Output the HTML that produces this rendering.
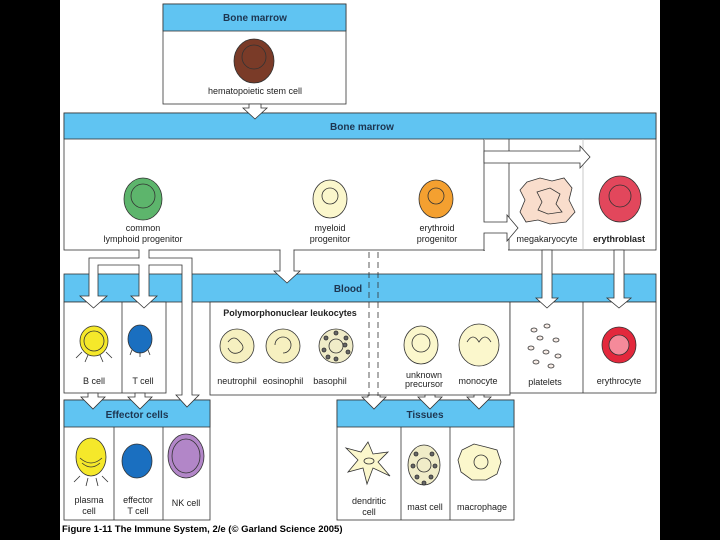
<!DOCTYPE html>
<html><head><meta charset="utf-8"><style>
html,body{margin:0;padding:0;background:#000;}
svg{display:block;}
text{font-family:"Liberation Sans",sans-serif;font-size:9px;fill:#222;text-anchor:middle;}
.h{font-weight:bold;font-size:10px;fill:#1d3550;}
.b{font-weight:bold;}
</style></head><body>
<svg width="720" height="540" viewBox="0 0 720 540" xmlns="http://www.w3.org/2000/svg">
<rect x="0" y="0" width="720" height="540" fill="#000"/>
<rect x="60" y="0" width="600" height="540" fill="#fff"/>

<g stroke="#333" stroke-width="0.8">
<!-- top box -->
<rect x="163" y="4" width="183" height="100" fill="#fff"/>
<rect x="163" y="4" width="183" height="27" fill="#60c4f2"/>
<!-- bone marrow -->
<rect x="64" y="113" width="592" height="137" fill="#fff"/>
<rect x="64" y="113" width="592" height="26" fill="#60c4f2"/>
<!-- blood -->
<rect x="64" y="274" width="592" height="28" fill="#60c4f2"/>
<rect x="64" y="302" width="102" height="91" fill="#fff"/>
<line x1="122" y1="302" x2="122" y2="393"/>
<rect x="210" y="302" width="300" height="93" fill="#fff"/>
<rect x="510" y="302" width="146" height="91" fill="#fff"/>
<line x1="583" y1="302" x2="583" y2="393"/>
<!-- effector -->
<rect x="64" y="400" width="146" height="120" fill="#fff"/>
<rect x="64" y="400" width="146" height="27" fill="#60c4f2"/>
<line x1="114" y1="427" x2="114" y2="520"/>
<line x1="163" y1="427" x2="163" y2="520"/>
<!-- tissues -->
<rect x="337" y="400" width="177" height="120" fill="#fff"/>
<rect x="337" y="400" width="177" height="27" fill="#60c4f2"/>
<line x1="401" y1="427" x2="401" y2="520"/>
<line x1="450" y1="427" x2="450" y2="520"/>
</g>

<!-- marrow right channel -->
<rect x="485" y="140" width="23" height="110" fill="#fff"/>
<g stroke="#333" stroke-width="0.8" fill="#fff">
<line x1="509" y1="139" x2="509" y2="250"/>
<line x1="583" y1="139" x2="583" y2="250" stroke="#bbb"/>
<polygon points="484,139 484,222 507,222 507,215 518,228 507,241 507,233 484,233 484,250 485,250 485,139" stroke="none"/>
<polyline points="484,139 484,222 507,222 507,215 518,228 507,241 507,233 484,233 484,251" fill="none"/>
<polygon points="484,151 580,151 580,146 590,157 580,168 580,163 484,163"/>
</g>
<line x1="485" y1="250" x2="508" y2="250" stroke="#fff" stroke-width="2"/>

<!-- headers -->
<text class="h" x="255" y="21">Bone marrow</text>
<text class="h" x="362" y="130">Bone marrow</text>
<text class="h" x="348" y="292">Blood</text>
<text class="h" x="137" y="418">Effector cells</text>
<text class="h" x="425" y="418">Tissues</text>

<!-- arrows -->
<g stroke="#333" stroke-width="0.8" fill="#fff">
<polygon points="249,104 261,104 261,108 267,108 255,119 243,108 249,108"/>
<polygon points="280,250 294,250 294,271 300,271 287,283 274,271 280,271"/>
<path d="M139,250 L139,258 L89,258 L89,296 L80,296 L93.5,308 L107,296 L98,296 L98,265 L139,265 L139,296 L131,296 L144,308 L157,296 L149,296 L149,265 L182,265 L182,395 L176,395 L187,407 L199,395 L192,395 L192,258 L149,258 L149,250"/>
<polygon points="542,250 552,250 552,298 558,298 547,308 536,298 542,298"/>
<polygon points="614,250 624,250 624,298 631,298 619,308 607,298 614,298"/>
<polygon points="88,393 98,393 98,397 105,397 93,409 81,397 88,397"/>
<polygon points="135,393 145,393 145,397 152,397 140,409 128,397 135,397"/>
<polygon points="425,395 435,395 435,397 442,397 430,409 418,397 425,397"/>
<polygon points="474,395 484,395 484,397 491,397 479,409 467,397 474,397"/>
<polygon points="368,395 380,395 380,397 386,397 374,409 362,397 368,397"/>
</g>
<line x1="139.5" y1="250" x2="148.5" y2="250" stroke="#fff" stroke-width="2"/>
<line x1="280.5" y1="250" x2="293.5" y2="250" stroke="#fff" stroke-width="2"/>
<g stroke="#333" stroke-width="0.8" stroke-dasharray="6,4">
<line x1="369" y1="252" x2="369" y2="396"/>
<line x1="378" y1="252" x2="378" y2="396"/>
</g>

<!-- cells -->
<g stroke="#333" stroke-width="0.8">
<ellipse cx="254" cy="61" rx="20" ry="22" fill="#7a3b28"/><circle cx="254" cy="57" r="12" fill="none" stroke="#333"/>
<ellipse cx="143" cy="199" rx="19" ry="21" fill="#5db56c"/><circle cx="143" cy="196" r="12" fill="none"/>
<ellipse cx="330" cy="199" rx="17" ry="19" fill="#fbf7cc"/><circle cx="330" cy="196" r="8" fill="none"/>
<ellipse cx="436" cy="199" rx="17" ry="19" fill="#f4a030"/><circle cx="436" cy="196" r="8" fill="none"/>
<path d="M527,182 L540,178 L552,181 L564,178 L572,188 L569,200 L575,212 L566,222 L550,224 L538,220 L526,222 L520,212 L525,200 L520,190 Z" fill="#f9ddcc"/>
<path d="M537,192 L550,188 L560,194 L556,204 L562,212 L548,214 L538,210 L542,202 Z" fill="none"/>
<ellipse cx="620" cy="199" rx="21" ry="23" fill="#e2475c"/><circle cx="620" cy="196" r="11" fill="none"/>

<ellipse cx="94" cy="341" rx="14" ry="15" fill="#f5e82a"/><circle cx="94" cy="341" r="10" fill="none"/>
<path d="M82,352 l-6,6 M88,355 l-3,7 M100,355 l3,7 M106,352 l6,6" fill="none"/>
<ellipse cx="140" cy="339" rx="12" ry="14" fill="#1a6fc0"/>
<path d="M132,350 l-2,5 M148,350 l2,5 M140,352 l0,5" fill="none"/>

<circle cx="237" cy="346" r="17" fill="#f6f0c0"/><path d="M228,342 q6,-8 12,0 q6,6 0,10 q-8,4 -12,-4" fill="none"/>
<circle cx="283" cy="346" r="17" fill="#f6f0c0"/><path d="M275,345 a8,8 0 1 1 8,8" fill="none"/>
<circle cx="336" cy="346" r="17" fill="#f0ecc8"/><circle cx="336" cy="346" r="7" fill="none"/>
<g fill="#666"><circle cx="326" cy="338" r="2"/><circle cx="346" cy="338" r="2"/><circle cx="324" cy="350" r="2"/><circle cx="348" cy="352" r="2"/><circle cx="336" cy="333" r="2"/><circle cx="336" cy="359" r="2"/><circle cx="328" cy="357" r="2"/><circle cx="345" cy="345" r="2"/></g>
<ellipse cx="421" cy="345" rx="17" ry="19" fill="#fbf7cc"/><circle cx="421" cy="343" r="9" fill="none"/>
<ellipse cx="479" cy="345" rx="20" ry="21" fill="#fbf7cc"/><path d="M467,342 q6,-10 12,0 q6,-10 12,0" fill="none"/>
<g fill="#f9eee8"><ellipse cx="534" cy="330" rx="3" ry="2"/><ellipse cx="547" cy="326" rx="3" ry="2"/><ellipse cx="540" cy="338" rx="3" ry="2"/><ellipse cx="556" cy="340" rx="3" ry="2"/><ellipse cx="531" cy="348" rx="3" ry="2"/><ellipse cx="546" cy="352" rx="3" ry="2"/><ellipse cx="558" cy="356" rx="3" ry="2"/><ellipse cx="536" cy="362" rx="3" ry="2"/><ellipse cx="551" cy="366" rx="3" ry="2"/></g>
<ellipse cx="619" cy="345" rx="17" ry="18" fill="#e3283c"/><circle cx="619" cy="345" r="10" fill="#f58a9a"/>

<ellipse cx="91" cy="457" rx="15" ry="19" fill="#f5e82a"/><path d="M80,458 q11,10 22,0 M82,463 q9,8 18,0" fill="none"/>
<path d="M80,476 l-6,6 M88,478 l-2,8 M96,478 l2,8 M102,476 l6,6" fill="none"/>
<ellipse cx="137" cy="461" rx="15" ry="17" fill="#1a6fc0"/>
<ellipse cx="186" cy="456" rx="18" ry="22" fill="#b286c8"/><ellipse cx="186" cy="456" rx="14" ry="17" fill="none"/>
<path d="M368,442 L373,454 L388,452 L378,462 L390,476 L373,468 L367,484 L363,468 L348,472 L358,460 L346,448 L361,452 Z" fill="#fbf7cc"/>
<ellipse cx="369" cy="461" rx="5" ry="3" fill="none"/>
<ellipse cx="424" cy="465" rx="16" ry="20" fill="#f0ecc8"/><circle cx="424" cy="465" r="7" fill="none"/>
<g fill="#666"><circle cx="416" cy="454" r="2"/><circle cx="432" cy="454" r="2"/><circle cx="413" cy="466" r="2"/><circle cx="435" cy="466" r="2"/><circle cx="417" cy="477" r="2"/><circle cx="431" cy="477" r="2"/><circle cx="424" cy="483" r="2"/></g>
<path d="M462,450 L474,444 L486,447 L497,450 L501,462 L497,474 L486,480 L472,480 L461,472 L458,460 Z" fill="#fbf7cc"/>
<circle cx="481" cy="462" r="7" fill="none"/>
</g>

<!-- labels -->
<text x="255" y="94">hematopoietic stem cell</text>
<text x="143" y="231">common</text><text x="143" y="242">lymphoid progenitor</text>
<text x="330" y="231">myeloid</text><text x="330" y="242">progenitor</text>
<text x="437" y="231">erythroid</text><text x="437" y="242">progenitor</text>
<text x="547" y="242">megakaryocyte</text>
<text class="b" x="619" y="242">erythroblast</text>
<text class="b" x="290" y="316">Polymorphonuclear leukocytes</text>
<text x="94" y="384">B cell</text><text x="143" y="384">T cell</text>
<text x="237" y="384">neutrophil</text><text x="283" y="384">eosinophil</text><text x="330" y="384">basophil</text>
<text x="424" y="378">unknown</text><text x="424" y="387">precursor</text>
<text x="478" y="384">monocyte</text>
<text x="545" y="385">platelets</text><text x="619" y="384">erythrocyte</text>
<text x="89" y="503">plasma</text><text x="89" y="514">cell</text>
<text x="138" y="503">effector</text><text x="138" y="514">T cell</text>
<text x="186" y="506">NK cell</text>
<text x="369" y="504">dendritic</text><text x="369" y="515">cell</text>
<text x="425" y="510">mast cell</text><text x="482" y="510">macrophage</text>
<text class="b" x="62" y="532" style="text-anchor:start;font-size:9.5px;fill:#000">Figure 1-11  The Immune System, 2/e (© Garland Science 2005)</text>
</svg>
</body></html>
